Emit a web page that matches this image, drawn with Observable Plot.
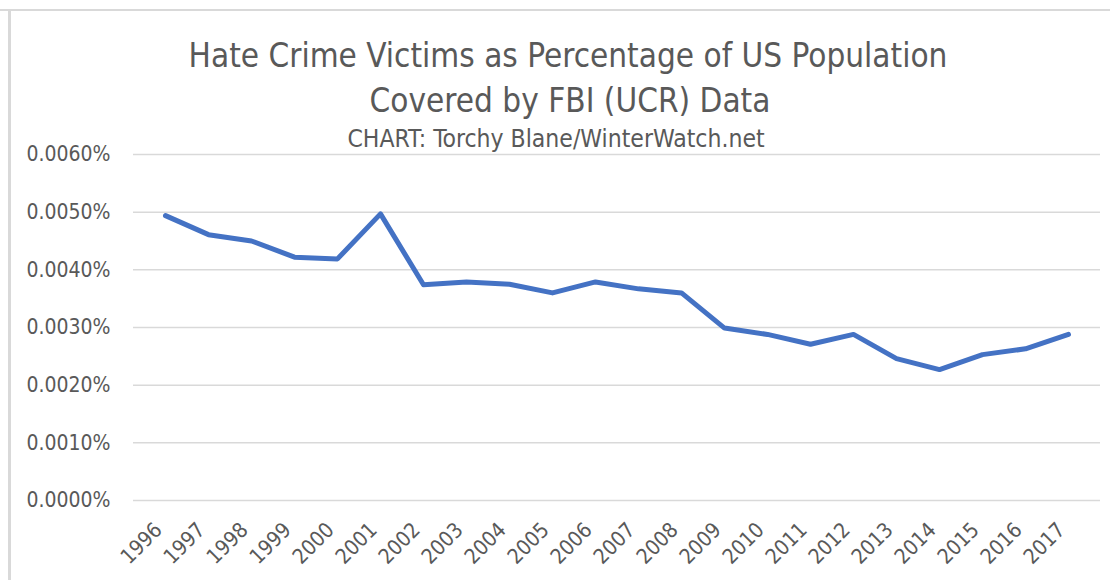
<!DOCTYPE html>
<html>
<head>
<meta charset="utf-8">
<script src="https://cdn.jsdelivr.net/npm/d3@7"></script>
<script src="https://cdn.jsdelivr.net/npm/@observablehq/plot@0.6"></script>
<style>
  html, body { margin: 0; padding: 0; background: #fff; }
  #wrap { position: relative; width: 1110px; height: 580px; overflow: hidden; }
  .t { position: absolute; white-space: nowrap; transform: translateX(-50%); color: #595959; }
  #t1 { left: 568px; top: 36px; font: 300 33px "DejaVu Sans Condensed", "DejaVu Sans", sans-serif; }
  #t2 { left: 570px; top: 81px; font: 300 33px "DejaVu Sans Condensed", "DejaVu Sans", sans-serif; }
  #t3 { left: 556px; top: 124px; font: 400 24.5px "DejaVu Sans Condensed", "DejaVu Sans", sans-serif; }
  #topline { position: absolute; left: 0; top: 9px; width: 1110px; height: 2px; background: #d9d9d9; }
  #leftline { position: absolute; left: 8px; top: 9px; width: 3px; height: 580px; background: #d9d9d9; }
  #chart { position: absolute; left: 0; top: 0; }
</style>
</head>
<body>
<div id="wrap">
  <div id="chart"></div>
  <div id="topline"></div>
  <div id="leftline"></div>
  <div class="t" id="t1">Hate Crime Victims as Percentage of US Population</div>
  <div class="t" id="t2">Covered by FBI (UCR) Data</div>
  <div class="t" id="t3">CHART: Torchy Blane/WinterWatch.net</div>
</div>
<script>
const years = ["1996","1997","1998","1999","2000","2001","2002","2003","2004","2005","2006","2007","2008","2009","2010","2011","2012","2013","2014","2015","2016","2017"];
const pctValues = [0.00494,0.00461,0.00450,0.00422,0.00419,0.00497,0.00374,0.00379,0.00375,0.00360,0.00379,0.00367,0.00360,0.00299,0.00288,0.00271,0.00288,0.00246,0.00227,0.00253,0.00263,0.00288];
const yTicks = [0,0.001,0.002,0.003,0.004,0.005,0.006];

const data = years.map((y, i) => ({year: y, value: pctValues[i]}));

const chart = Plot.plot({
  width: 1110,
  height: 580,
  marginTop: 154,
  marginBottom: 80,
  marginLeft: 133,
  marginRight: 10,
  style: {fontFamily: '"DejaVu Sans Condensed", "DejaVu Sans", sans-serif', fontSize: "21px", color: "#595959", background: "transparent"},
  x: {type: "point", domain: years, padding: 0.5, label: null},
  y: {domain: [0, 0.006], label: null},
  marks: [
    Plot.gridY(yTicks, {stroke: "#d9d9d9", strokeOpacity: 1, strokeWidth: 1.5}),
    Plot.axisY(yTicks, {tickSize: 0, tickPadding: 23, tickFormat: d => d.toFixed(4) + "%", fill: "#595959", label: null}),
    Plot.axisX(years, {tickSize: 0, tickPadding: 26, dx: -7, tickRotate: -45, fill: "#595959", label: null}),
    Plot.line(data, {x: "year", y: "value", stroke: "#4472C4", strokeWidth: 5, strokeLinejoin: "round", strokeLinecap: "round"})
  ]
});
document.getElementById("chart").appendChild(chart);
</script>
</body>
</html>
